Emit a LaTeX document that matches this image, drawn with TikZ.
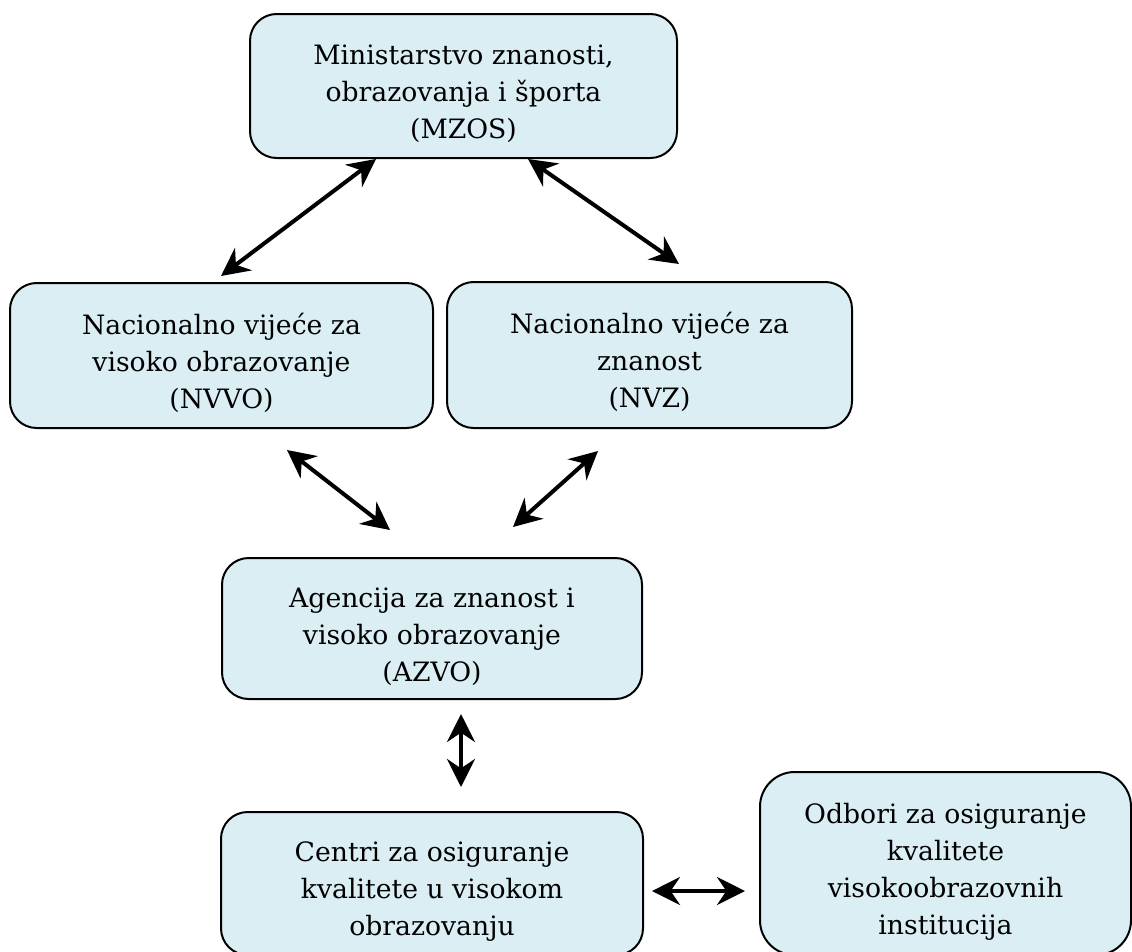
\documentclass[tikz,border=0pt]{standalone}
\usepackage{fontspec}
\setmainfont{DejaVu Serif}
\usepackage{tikz}
\usetikzlibrary{arrows.meta}

\definecolor{bleuboite}{HTML}{DAEEF3}
% décalage vertical du texte vers le bas
\newcommand{\hautboite}{\rule{0pt}{27pt}}

\tikzset{
  boite/.style={rectangle,draw=black,line width=1.5pt,fill=bleuboite,%
    rounded corners=20pt,align=center,inner sep=0pt,%
    font=\fontsize{20pt}{27.75pt}\selectfont},
  pointe/.tip={Stealth[length=21pt,width=21pt,inset=7pt]},
  fleche/.style={pointe-pointe,line width=3pt}
}

\begin{document}
\begin{tikzpicture}[x=0.75pt,y=-0.75pt]
      \useasboundingbox (0,0) rectangle (1132,951);

      % Création des boîtes
      \node[boite,minimum width=320.25pt,minimum height=108pt]%
      (Min) at (463.5,86) {\hautboite Ministarstvo znanosti,\\obrazovanja i športa\\(MZOS)};
      \node[boite,minimum width=317.25pt,minimum height=108.75pt]%
      (NV_VO) at (221.5,355.5) {\hautboite Nacionalno vijeće za\\visoko obrazovanje\\(NVVO)};
      \node[boite,minimum width=303.75pt,minimum height=109.5pt]%
      (NV_Z) at (649.5,355) {\hautboite Nacionalno vijeće za\\znanost\\(NVZ)};
      \node[boite,minimum width=315pt,minimum height=105.75pt]%
      (Agc) at (432,628.5) {\hautboite Agencija za znanost i\\visoko obrazovanje\\(AZVO)};
      \node[boite,minimum width=316.5pt,minimum height=107.25pt]%
      (Ctr) at (432,883.5) {\hautboite Centri za osiguranje\\kvalitete u visokom\\obrazovanju};
      \node[boite,rounded corners=26pt,minimum width=278.25pt,minimum height=137.25pt]%
      (Odb) at (945.5,863.5) {\hautboite Odbori za osiguranje\\kvalitete\\visokoobrazovnih\\institucija};

      % Positionnement des points d'ancrage des flèches
      \coordinate (Min_G) at (376,159);
      \coordinate (VO_H) at (221,276);
      \coordinate (Min_D) at (528,159);
      \coordinate (Z_H) at (679,264);
      \coordinate (VO_B) at (287,450);
      \coordinate (Agc_G) at (390,530);
      \coordinate (Z_B) at (598,451);
      \coordinate (Agc_D) at (513,527);
      \coordinate (Agc_B) at (461,714);
      \coordinate (Ctr_H) at (461,787);
      \coordinate (Ctr_D) at (652,891);
      \coordinate (Odb_G) at (745,891);

      % Flèches doubles
      \draw[fleche] (VO_H) -- (Min_G);
      \draw[fleche] (Min_D) -- (Z_H);
      \draw[fleche] (VO_B) -- (Agc_G);
      \draw[fleche] (Agc_D) -- (Z_B);
      \draw[fleche] (Agc_B) -- (Ctr_H);
      \draw[fleche] (Ctr_D) -- (Odb_G);
    \end{tikzpicture}
\end{document}
